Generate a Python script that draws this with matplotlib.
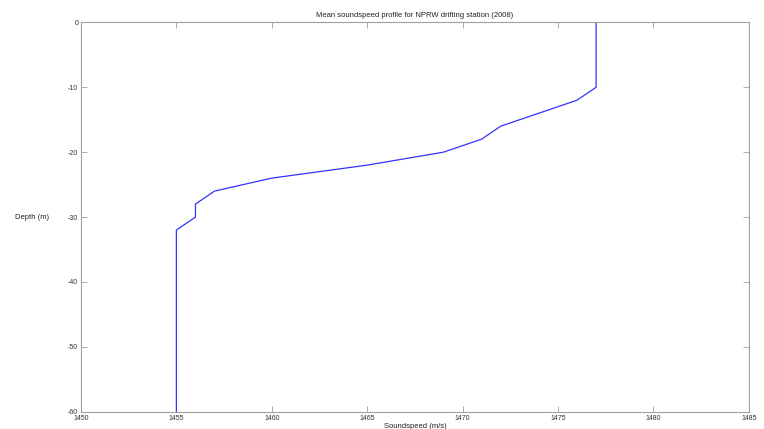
"""Mean soundspeed profile, MATLAB-style line plot."""

import matplotlib

matplotlib.use("Agg")
import matplotlib.pyplot as plt

plt.rcParams["font.family"] = ["Liberation Sans", "DejaVu Sans"]
plt.rcParams["axes.unicode_minus"] = False

DEPTH = [0, -2, -4, -6, -8, -10, -12, -14, -16, -18, -20, -22, -24, -26, -28,
         -30, -32, -34, -36, -38, -40, -42, -44, -46, -48, -50, -52, -54, -56,
         -58, -60]
SPEED = [1477, 1477, 1477, 1477, 1477, 1477, 1476, 1474, 1472, 1471, 1469,
         1465, 1460, 1457, 1456, 1456, 1455, 1455, 1455, 1455, 1455, 1455,
         1455, 1455, 1455, 1455, 1455, 1455, 1455, 1455, 1455]
X_TICKS = [1450, 1455, 1460, 1465, 1470, 1475, 1480, 1485]
Y_TICKS = [0, -10, -20, -30, -40, -50, -60]

AXIS_GREY = "#a0a0a0"


def main() -> None:
    fig = plt.figure(figsize=(7.64, 4.29), dpi=100)
    ax = fig.add_axes((0.106, 0.040, 0.874, 0.908))

    ax.plot(SPEED, DEPTH, color="#3333ff", linewidth=0.9)

    ax.set_xlim(X_TICKS[0], X_TICKS[-1])
    ax.set_ylim(Y_TICKS[-1], Y_TICKS[0])
    ax.set_xticks(X_TICKS)
    ax.set_yticks(Y_TICKS)

    for spine in ax.spines.values():
        spine.set_color(AXIS_GREY)
        spine.set_linewidth(0.8)
    ax.tick_params(
        direction="in",
        top=True,
        right=True,
        length=4,
        width=0.6,
        color=AXIS_GREY,
        labelsize=5,
        labelcolor="#333333",
        pad=2,
    )

    ax.set_title(
        "Mean soundspeed profile for NPRW drifting station (2008)",
        fontsize=5.5,
        color="#222222",
        pad=4,
    )
    ax.set_xlabel("Soundspeed (m/s)", fontsize=5.5, color="#222222", labelpad=1)
    ax.set_ylabel(
        "Depth (m)", fontsize=5.5, color="#222222", rotation=0, labelpad=26,
        va="center",
    )

    fig.savefig("out.png", dpi=100)
    plt.close(fig)


if __name__ == "__main__":
    main()
